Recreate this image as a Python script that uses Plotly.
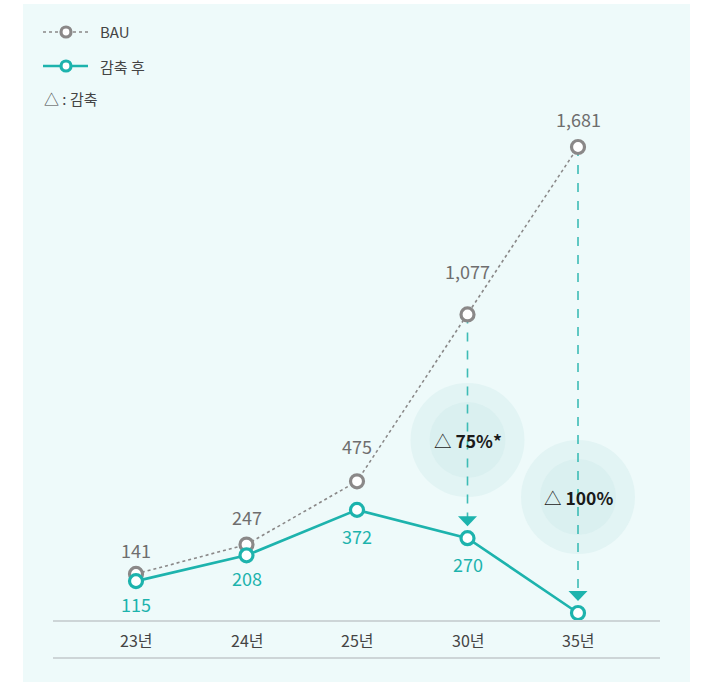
import plotly.graph_objects as go

# ---- data ----
years = ["23년", "24년", "25년", "30년", "35년"]
bau = [141, 247, 475, 1077, 1681]
reduced = [115, 208, 372, 270, 0]
reduction_labels = {3: "75%*", 4: "100%"}
series_names = ["BAU", "감축 후"]

# ---- style ----
W, H = 702, 682
TEAL = "#1db3ad"
GRAY = "#8a8888"
FONT = "Noto Sans CJK KR"
x_idx = list(range(len(years)))

k = 466 / 1681.0
ymin, ymax = -(H - 613) / k, 613 / k
xmin, xmax = -136 / 110.5, (W - 136) / 110.5
u_per_px = (ymax - ymin) / H

fig = go.Figure()

fig.add_trace(go.Scatter(
    x=x_idx, y=bau, name=series_names[0], mode="lines+markers",
    line=dict(color=GRAY, width=1.6, dash="dot"),
    marker=dict(size=13, color="white", line=dict(color=GRAY, width=3.2)),
    hoverinfo="skip", showlegend=False))
fig.add_trace(go.Scatter(
    x=x_idx, y=reduced, name=series_names[1], mode="lines+markers",
    line=dict(color=TEAL, width=2.6),
    marker=dict(size=13, color="white", line=dict(color=TEAL, width=3.2)),
    hoverinfo="skip", showlegend=False))

shapes = []
annotations = []

def px_x(p):
    return p / W

def px_y(p):
    return 1 - p / H

# background panel
shapes.append(dict(type="rect", xref="paper", yref="paper", x0=px_x(23), x1=px_x(690),
                   y0=-0.01, y1=px_y(4), fillcolor="#eefafa", line=dict(width=0), layer="below"))

# circles and arrows for reduction
circle_centers = {3: 440, 4: 497}
for i, lab in reduction_labels.items():
    cy = px_y(circle_centers[i])
    shapes.append(dict(type="circle", xref="x", yref="paper", xsizemode="pixel", ysizemode="pixel",
                       xanchor=i, yanchor=cy, x0=-57, x1=57, y0=-57, y1=57,
                       fillcolor="#e2f4f4", line=dict(width=0), layer="below"))
    shapes.append(dict(type="circle", xref="x", yref="paper", xsizemode="pixel", ysizemode="pixel",
                       xanchor=i, yanchor=cy, x0=-38, x1=38, y0=-38, y1=38,
                       fillcolor="#daf0f0", line=dict(width=0), layer="below"))
    shapes.append(dict(type="line", xref="x", yref="y", x0=i, x1=i,
                       y0=bau[i], y1=reduced[i] + 20 * u_per_px,
                       line=dict(color="#3dbcb6", width=1.6, dash="dash"), layer="below"))
    shapes.append(dict(type="path", xref="x", yref="y", xsizemode="pixel", ysizemode="pixel",
                       xanchor=i, yanchor=reduced[i],
                       path="M -9.5,22 L 9.5,22 L 0,12 Z",
                       fillcolor=TEAL, line=dict(width=0)))
    annotations.append(dict(x=i, y=cy, xref="x", yref="paper", showarrow=False,
                            yanchor="middle", xanchor="center",
                            text="△ <b>" + lab + "</b>",
                            font=dict(family=FONT, size=17.5, color="#1a1a1a")))

# axis lines
for py in (621, 658):
    shapes.append(dict(type="line", xref="paper", yref="paper", x0=px_x(53), x1=px_x(660),
                       y0=px_y(py), y1=px_y(py), line=dict(color="#cdd5d7", width=2)))

# x tick labels
for i, t in enumerate(years):
    annotations.append(dict(x=i, y=px_y(640), xref="x", yref="paper", showarrow=False,
                            yanchor="middle", xanchor="center",
                            text=t, font=dict(family=FONT, size=16, color="#444444")))

# data labels
bau_shift = [24, 28, 35, 43, 28]
for i, v in enumerate(bau):
    annotations.append(dict(x=i, y=v, xref="x", yref="y", showarrow=False, yshift=bau_shift[i],
                            yanchor="middle", xanchor="center",
                            text=f"{v:,}", font=dict(family=FONT, size=18, color="#6e6e6e")))
red_shift = [-23, -23, -26, -26, 0]
for i, v in enumerate(reduced):
    if v == 0:
        continue
    annotations.append(dict(x=i, y=v, xref="x", yref="y", showarrow=False, yshift=red_shift[i],
                            yanchor="middle", xanchor="center",
                            text=f"{v:,}", font=dict(family=FONT, size=18, color=TEAL)))

# manual legend
legend_rows = [(32, GRAY, "dot", 1.6), (66, TEAL, "solid", 2.6)]
for (ry, col, dash, lw), name in zip(legend_rows, series_names):
    shapes.append(dict(type="line", xref="paper", yref="paper", x0=px_x(43), x1=px_x(88),
                       y0=px_y(ry), y1=px_y(ry), line=dict(color=col, width=lw, dash=dash)))
    shapes.append(dict(type="circle", xref="paper", yref="paper", xsizemode="pixel", ysizemode="pixel",
                       xanchor=px_x(66), yanchor=px_y(ry), x0=-5, x1=5, y0=-5, y1=5,
                       fillcolor="white", line=dict(color=col, width=3.2)))
    annotations.append(dict(x=px_x(98), y=px_y(ry), xref="paper", yref="paper", xanchor="left",
                            yanchor="middle", showarrow=False, text=name,
                            font=dict(family=FONT, size=15, color="#444444")))

annotations.append(dict(x=px_x(42), y=px_y(99), xref="paper", yref="paper", xanchor="left",
                        yanchor="middle", showarrow=False, text="△ : 감축",
                        font=dict(family=FONT, size=15, color="#444444")))

fig.update_layout(
    width=W, height=H,
    margin=dict(l=0, r=0, t=0, b=0),
    paper_bgcolor="white", plot_bgcolor="rgba(0,0,0,0)",
    xaxis=dict(range=[xmin, xmax], visible=False, fixedrange=True),
    yaxis=dict(range=[ymin, ymax], visible=False, fixedrange=True),
    shapes=shapes, annotations=annotations,
    showlegend=False,
    font=dict(family=FONT),
)

fig.write_html("out.html", config={"displayModeBar": False},
               post_script="document.body.style.margin='0px';document.body.style.padding='0px';")
